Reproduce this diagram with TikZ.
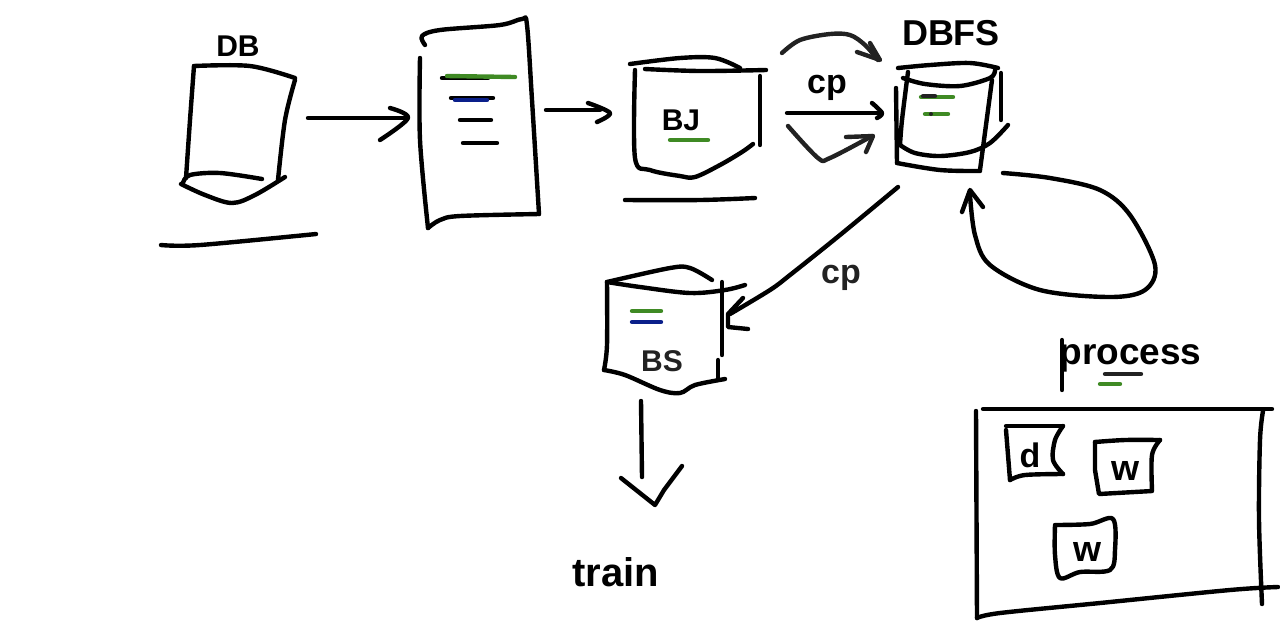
\documentclass[tikz,border=0pt]{standalone}
\usepackage{fontspec}
\setmainfont{Liberation Sans}
\definecolor{pgreen}{HTML}{3F8A24}
\definecolor{pblue}{HTML}{0A1F8A}
\definecolor{pdark}{HTML}{222222}
\newcommand{\hand}[1]{plot[smooth,tension=0.55] coordinates {#1}}
\tikzset{
  ink/.style={draw=black,line width=2.2pt,line cap=round,line join=round},
  dink/.style={draw=pdark,line width=2.2pt,line cap=round,line join=round},
  gstroke/.style={draw=pgreen,line width=2.2pt,line cap=round},
  bstroke/.style={draw=pblue,line width=2.2pt,line cap=round},
  label/.style={inner sep=0pt,text=black},
  dlabel/.style={inner sep=0pt,text=pdark}
}
\begin{document}
\begin{tikzpicture}[x=0.5pt,y=-0.5pt]
\useasboundingbox (0,0) rectangle (1280,629);
% DB
\node[label,font=\bfseries\fontsize{15}{15}\selectfont] (dbtext) at (238,46) {DB};
\draw[ink] \hand{(194,66)(250,66)(295,78)};
\draw[ink] \hand{(194,66)(190,120)(186,178)};
\draw[ink] \hand{(295,80)(285,120)(278,180)};
\draw[ink] \hand{(183,183)(190,175)(220,173)(262,179)};
\draw[ink] \hand{(181,184)(205,195)(232,203)(255,195)(285,177)};
\draw[ink] \hand{(161,245)(200,245)(316,234)};
% arrow DB -> doc
\draw[ink] (308,118)--(405,118);
\draw[ink] \hand{(390,108)(408,118)(380,140)};
% doc
\draw[ink] \hand{(420,58)(420,140)(428,228)};
\draw[ink] \hand{(428,228)(440,220)(460,216)(539,214)};
\draw[ink] \hand{(539,214)(532,100)(527,25)(522,19)(500,25)(440,30)(422,36)(425,45)};
\draw[ink] (442,78)--(488,78);
\draw[gstroke] (447,76)--(515,77);
\draw[ink] (451,98)--(493,98);
\draw[bstroke] (455,100)--(487,100);
\draw[ink] (460,120)--(491,120);
\draw[ink] (463,143)--(497,143);
% arrow doc -> BJ
\draw[ink] (546,110)--(600,110);
\draw[ink] \hand{(588,103)(610,113)(597,122)};
% BJ
\draw[ink] \hand{(630,64)(680,58)(715,58)(740,68)};
\draw[ink] \hand{(645,69)(700,71)(766,70)};
\draw[ink] \hand{(635,70)(635,158)(650,170)(680,176)(695,177)(720,165)(742,152)(753,144)};
\draw[ink] (760,76)--(760,145);
\draw[ink] \hand{(625,200)(700,200)(755,198)};
\node[label,font=\bfseries\fontsize{15}{15}\selectfont] (bjtext) at (681,120) {BJ};
\draw[gstroke] (670,140)--(708,140);
% cp arrows
\node[label,font=\bfseries\fontsize{17}{17}\selectfont] (cpa) at (827,88) {cp};
\draw[ink] (787,113)--(880,113);
\draw[ink] \hand{(872,103)(882,113)(877,118)};
\draw[dink] \hand{(782,53)(800,40)(830,34)(850,35)(865,45)(878,60)};
\draw[dink] (857,52)--(880,60)--(870,43);
\draw[dink] \hand{(788,126)(818,158)(830,158)(872,136)};
\draw[dink] (846,137)--(873,136)--(866,152);
% DBFS
\node[label,font=\bfseries\fontsize{18}{18}\selectfont] (dbfstext) at (951,33) {DBFS};
\draw[ink] \hand{(898,68)(930,65)(970,63)(998,68)};
\draw[ink] \hand{(903,78)(925,84)(960,86)(990,78)(995,70)};
\draw[ink] (896,88)--(897,163);
\draw[ink] \hand{(897,163)(940,170)(980,171)};
\draw[ink] \hand{(908,72)(902,120)(900,145)};
\draw[ink] (992,80)--(980,170);
\draw[ink] (1001,73)--(1001,120);
\draw[ink] \hand{(900,145)(915,153)(940,156)(970,152)(990,143)(1008,125)};
\draw[gstroke] (921,97)--(953,97);
\draw[dink] (923,96)--(935,96);
\draw[gstroke] (925,114)--(948,114);
\fill[pdark] (931,114) circle (2);
% feedback loop
\draw[ink] \hand{(1003,173)(1050,178)(1100,190)(1130,215)(1155,265)(1145,290)(1110,297)(1040,290)(990,265)(975,235)(970,195)};
\draw[ink] (962,212)--(970,190)--(983,207);
% cp arrow to BS
\draw[ink] \hand{(898,187)(840,235)(790,275)(770,290)(730,314)};
\draw[ink] (743,298)--(728,314)--(728,327)--(748,329);
\node[dlabel,font=\bfseries\fontsize{17}{17}\selectfont] (cpb) at (841,278) {cp};
% BS
\draw[ink] \hand{(607,282)(670,268)(690,268)(712,280)};
\draw[ink] \hand{(607,282)(640,287)(690,293)(725,290)(745,285)};
\draw[ink] \hand{(607,282)(607,345)(604,370)};
\draw[ink] \hand{(604,370)(625,375)(660,390)(680,393)(695,385)(725,379)};
\draw[ink] (722,282)--(722,355);
\draw[ink] (718,360)--(718,380);
\draw[gstroke] (632,311)--(661,311);
\draw[bstroke] (632,322)--(661,322);
\node[dlabel,font=\bfseries\fontsize{15}{15}\selectfont] (bstext) at (662,361) {BS};
% arrow to train
\draw[ink] (641,401)--(642,477);
\draw[ink] (621,478)--(655,505)--(664,490)--(682,466);
\node[label,font=\bfseries\fontsize{20}{20}\selectfont] (traintext) at (616,572) {train};
% process
\node[label,anchor=base west,font=\bfseries\fontsize{18.5}{19}\selectfont] (proctext) at (1059,364) {process};
\draw[ink] (1062,340)--(1062,390);
\draw[dink] (1105,374)--(1141,374);
\draw[gstroke] (1100,384)--(1120,384);
% process box
\draw[ink] (983,409)--(1272,409);
\draw[ink] (976,411)--(977,618);
\draw[ink] \hand{(977,618)(1000,613)(1100,603)(1230,590)(1278,587)};
\draw[ink] \hand{(1263,411)(1260,440)(1259,520)(1262,604)};
% d
\draw[ink] (1006,426)--(1063,426);
\draw[ink] (1006,430)--(1010,480);
\draw[ink] \hand{(1010,480)(1025,475)(1063,474)};
\draw[ink] \hand{(1063,426)(1055,440)(1053,460)(1063,474)};
\node[label,font=\bfseries\fontsize{17}{17}\selectfont] (dtext) at (1030,455) {d};
% w 1
\draw[ink] \hand{(1095,442)(1125,440)(1160,440)};
\draw[ink] \hand{(1160,440)(1152,455)(1152,490)};
\draw[ink] (1152,491)--(1099,494)--(1095,470)--(1095,442);
\node[label,font=\bfseries\fontsize{18}{18}\selectfont] (wa) at (1125,471) {w};
% w 2
\draw[ink] \hand{(1055,525)(1090,524)(1113,519)(1115,550)(1110,570)(1080,572)(1060,578)(1055,555)(1055,525)};
\node[label,font=\bfseries\fontsize{18}{18}\selectfont] (wb) at (1087,552) {w};
\end{tikzpicture}
\end{document}
